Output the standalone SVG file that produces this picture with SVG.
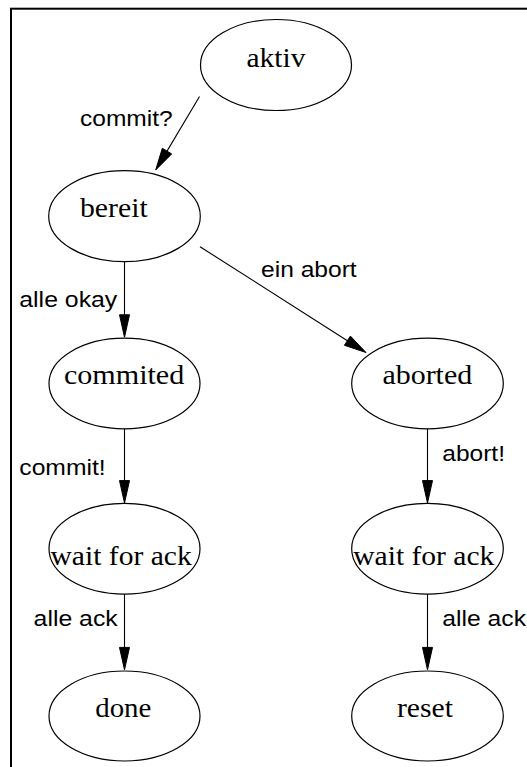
<svg xmlns="http://www.w3.org/2000/svg" width="527" height="767" viewBox="0 0 527 767">
  <style>
    .node ellipse { fill: none; stroke: #000; stroke-width: 1.2; }
    .node text { font-family: "Liberation Serif", "Times New Roman", serif; font-size: 27.5px; fill: #000; }
    .edge line { stroke: #000; stroke-width: 1.1; }
    .edge polygon { fill: #000; stroke: #000; stroke-width: 1; }
    .label { font-family: "Liberation Sans", Arial, sans-serif; font-size: 22px; fill: #000; }
  </style>
  <rect width="527" height="767" fill="#fff"/>
  <!-- page frame, running past the right and bottom edges -->
  <rect x="11" y="8.7" width="600" height="800" fill="none" stroke="#000" stroke-width="2"/>

  <g id="nodes">
    <g id="aktiv" class="node">
      <ellipse cx="276" cy="65" rx="75.5" ry="45.5"/>
      <text x="246.5" y="67.3" textLength="58.9" lengthAdjust="spacingAndGlyphs">aktiv</text>
    </g>
    <g id="bereit" class="node">
      <ellipse cx="124.5" cy="216.2" rx="75.8" ry="45.5"/>
      <text x="80" y="216.7" textLength="67.7" lengthAdjust="spacingAndGlyphs">bereit</text>
    </g>
    <g id="commited" class="node">
      <ellipse cx="124.5" cy="383.5" rx="75.5" ry="45.3"/>
      <text x="63.9" y="383.5" textLength="120.4" lengthAdjust="spacingAndGlyphs">commited</text>
    </g>
    <g id="aborted" class="node">
      <ellipse cx="427.5" cy="383.5" rx="75.8" ry="45.3"/>
      <text x="382.4" y="383.5" textLength="89.8" lengthAdjust="spacingAndGlyphs">aborted</text>
    </g>
    <g id="wait_commit" class="node">
      <ellipse cx="124.5" cy="548.7" rx="75.5" ry="45.4"/>
      <text x="50.5" y="564.8" textLength="141.2" lengthAdjust="spacingAndGlyphs">wait for ack</text>
    </g>
    <g id="wait_abort" class="node">
      <ellipse cx="427.5" cy="548.7" rx="75.8" ry="45.4"/>
      <text x="353.2" y="564.8" textLength="141.2" lengthAdjust="spacingAndGlyphs">wait for ack</text>
    </g>
    <g id="done" class="node">
      <ellipse cx="124.5" cy="716" rx="75.5" ry="45"/>
      <text x="95.2" y="716.7" textLength="56.2" lengthAdjust="spacingAndGlyphs">done</text>
    </g>
    <g id="reset" class="node">
      <ellipse cx="427.5" cy="716" rx="75.8" ry="45"/>
      <text x="396.9" y="716.7" textLength="56.1" lengthAdjust="spacingAndGlyphs">reset</text>
    </g>
  </g>

  <g id="connectors">
    <!-- aktiv -> bereit -->
    <g class="edge">
      <line x1="199.5" y1="96.5" x2="167" y2="151.1"/>
      <polygon points="155.7,170 171.7,153.9 162.3,148.3"/>
      <text class="label" x="80" y="125.5" textLength="92.7" lengthAdjust="spacingAndGlyphs">commit?</text>
    </g>
    <!-- bereit -> aborted -->
    <g class="edge">
      <line x1="200" y1="246.7" x2="347.4" y2="340.7"/>
      <polygon points="366,352.5 344.4,345.3 350.4,336.1"/>
      <text class="label" x="261" y="276.5" textLength="95.7" lengthAdjust="spacingAndGlyphs">ein abort</text>
    </g>
    <!-- bereit -> commited -->
    <g class="edge">
      <line x1="124.5" y1="261.7" x2="124.5" y2="315"/>
      <polygon points="124.5,337.2 119.5,314.8 129.5,314.8"/>
      <text class="label" x="19.3" y="307.3" textLength="98" lengthAdjust="spacingAndGlyphs">alle okay</text>
    </g>
    <!-- commited -> wait for ack -->
    <g class="edge">
      <line x1="124.5" y1="428.8" x2="124.5" y2="481"/>
      <polygon points="124.5,503 119.5,480.6 129.5,480.6"/>
      <text class="label" x="19.3" y="475" textLength="86.4" lengthAdjust="spacingAndGlyphs">commit!</text>
    </g>
    <!-- aborted -> wait for ack -->
    <g class="edge">
      <line x1="427.5" y1="428.8" x2="427.5" y2="481"/>
      <polygon points="427.5,503 422.5,480.6 432.5,480.6"/>
      <text class="label" x="442.3" y="461" textLength="62.7" lengthAdjust="spacingAndGlyphs">abort!</text>
    </g>
    <!-- wait for ack -> done -->
    <g class="edge">
      <line x1="124.5" y1="594.1" x2="124.5" y2="648"/>
      <polygon points="124.5,669.8 119.5,647.4 129.5,647.4"/>
      <text class="label" x="33.6" y="625.5" textLength="84.1" lengthAdjust="spacingAndGlyphs">alle ack</text>
    </g>
    <!-- wait for ack -> reset -->
    <g class="edge">
      <line x1="427.5" y1="594.1" x2="427.5" y2="648"/>
      <polygon points="427.5,669.8 422.5,647.4 432.5,647.4"/>
      <text class="label" x="442.3" y="625.7" textLength="83.7" lengthAdjust="spacingAndGlyphs">alle ack</text>
    </g>
  </g>
</svg>
